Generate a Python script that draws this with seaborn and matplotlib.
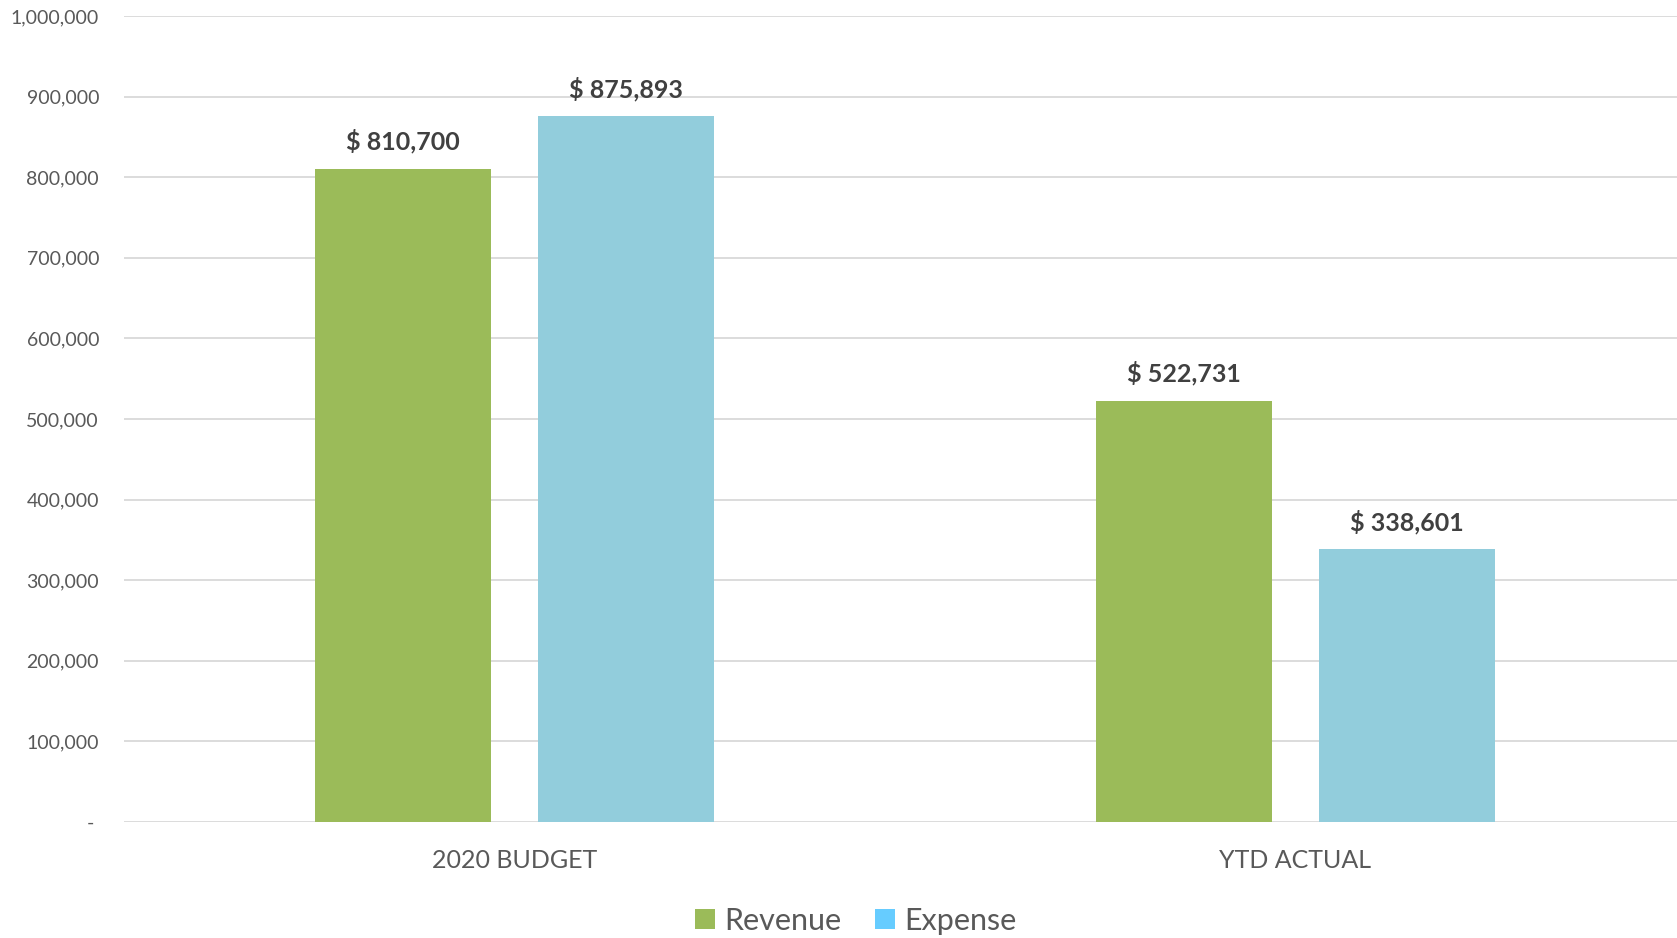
import matplotlib
matplotlib.use("Agg")
import matplotlib.pyplot as plt
import seaborn as sns
import pandas as pd
from matplotlib.patches import Patch
from matplotlib.ticker import FuncFormatter, FixedLocator

# Budget vs. year-to-date figures
categories = ["2020 BUDGET", "YTD ACTUAL"]
series = ["Revenue", "Expense"]
revenue = [810700, 522731]
expense = [875893, 338601]
y_ticks = [0, 100000, 200000, 300000, 400000, 500000,
           600000, 700000, 800000, 900000, 1000000]

df = pd.DataFrame({
    "category": categories * 2,
    "series": [series[0]] * len(categories) + [series[1]] * len(categories),
    "amount": revenue + expense,
})

bar_colors = {"Revenue": "#9BBB59", "Expense": "#92CDDC"}
legend_colors = {"Revenue": "#9BBB59", "Expense": "#66CCFF"}
text_gray = "#595959"
label_gray = "#404040"
grid_gray = "#D9D9D9"

sns.set_theme(style="white")
plt.rcParams["font.family"] = ["Lato", "DejaVu Sans"]

W, H = 1677, 938
fig = plt.figure(figsize=(W / 100, H / 100), dpi=100)
# plot area runs slightly past the right edge of the canvas
ax = fig.add_axes([124 / W, 1 - 822 / H, 1562 / W, (822 - 16) / H])

sns.barplot(
    data=df, x="category", y="amount", hue="series",
    order=categories, hue_order=series, palette=bar_colors,
    width=0.57, gap=0.21, saturation=1, errorbar=None,
    linewidth=0, legend=False, ax=ax, zorder=3,
)

# Value labels above each bar
for container, values in zip(ax.containers, [revenue, expense]):
    for bar, v in zip(container, values):
        ax.annotate(
            f"$ {v:,}",
            xy=(bar.get_x() + bar.get_width() / 2, v),
            xytext=(0, 19.5), textcoords="offset points",
            ha="center", va="center",
            fontsize=18, fontweight="bold", color=label_gray,
        )

ax.set_xlim(-0.5, 1.5)
ax.set_ylim(0, 1000000)
ax.yaxis.set_major_locator(FixedLocator(y_ticks))
ax.yaxis.set_major_formatter(
    FuncFormatter(lambda v, _: "- " if v == 0 else f"{int(v):,}")
)
ax.yaxis.grid(True, color=grid_gray, linewidth=1.3, zorder=0)
ax.set_axisbelow(True)
for spine in ax.spines.values():
    spine.set_visible(False)

ax.tick_params(axis="y", length=0, pad=18, labelsize=14, labelcolor=text_gray)
ax.tick_params(axis="x", length=0, pad=19.5, labelsize=18, labelcolor=text_gray)
ax.set_xlabel("")
ax.set_ylabel("")

handles = [Patch(facecolor=legend_colors[s], edgecolor="none", label=s) for s in series]
fig.legend(
    handles=handles, loc="center", bbox_to_anchor=(856 / W, 1 - 921 / H),
    ncol=2, frameon=False, fontsize=22, labelcolor=text_gray,
    handlelength=0.65, handleheight=0.65, handletextpad=0.3, columnspacing=1.1,
)

fig.savefig("out.png", dpi=100)
